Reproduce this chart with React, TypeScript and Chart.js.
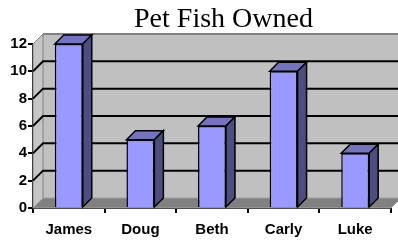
import React, { useEffect, useRef } from 'react';
import { Chart, registerables } from 'chart.js';

Chart.register(...registerables);

const TITLE = 'Pet Fish Owned';
const categories = ['James', 'Doug', 'Beth', 'Carly', 'Luke'];
const fishOwned = [12, 5, 6, 10, 4];
const yMin = 0;
const yMax = 12;
const yStep = 2;

const WALL_DEPTH = 10;
const BAR_DEPTH = 9;

function poly(ctx: CanvasRenderingContext2D, pts: number[][], fill: string, stroke?: string, lw = 1) {
  ctx.beginPath();
  ctx.moveTo(pts[0][0], pts[0][1]);
  for (let i = 1; i < pts.length; i++) ctx.lineTo(pts[i][0], pts[i][1]);
  ctx.closePath();
  ctx.fillStyle = fill;
  ctx.fill();
  if (stroke) {
    ctx.strokeStyle = stroke;
    ctx.lineWidth = lw;
    ctx.lineJoin = 'miter';
    ctx.stroke();
  }
}

const threeD = {
  id: 'threeD',
  beforeDatasetsDraw(chart: any) {
    const { ctx, chartArea, scales } = chart;
    const { left, right, bottom } = chartArea;
    const y = scales.y;
    const d = WALL_DEPTH;
    const yTop = y.getPixelForValue(yMax);
    ctx.save();
    // back wall
    poly(ctx, [[left + d, yTop - d], [right + d, yTop - d], [right + d, bottom - d], [left + d, bottom - d]], '#c0c0c0');
    // left wall
    poly(ctx, [[left, bottom], [left, yTop], [left + d, yTop - d], [left + d, bottom - d]], '#c6c6c6', '#808080', 1);
    // floor
    poly(ctx, [[left, bottom], [right, bottom], [right + d, bottom - d], [left + d, bottom - d]], '#808080', '#a0a0a0', 1);
    // top edge of back wall
    ctx.strokeStyle = '#808080';
    ctx.lineWidth = 2;
    ctx.beginPath();
    ctx.moveTo(left + d, yTop - d);
    ctx.lineTo(right + d + 20, yTop - d);
    ctx.stroke();
    // gridlines
    ctx.strokeStyle = '#000';
    ctx.lineWidth = 2;
    for (let v = yMin + yStep; v < yMax; v += yStep) {
      const py = y.getPixelForValue(v);
      ctx.beginPath();
      ctx.moveTo(left, py);
      ctx.lineTo(left + d, py - d);
      ctx.lineTo(right + d + 20, py - d);
      ctx.stroke();
    }
    ctx.restore();
  },
  afterDatasetsDraw(chart: any) {
    const { ctx } = chart;
    const meta = chart.getDatasetMeta(0);
    const d = BAR_DEPTH;
    ctx.save();
    meta.data.forEach((bar: any) => {
      const { x, y, base, width } = bar.getProps(['x', 'y', 'base', 'width'], true);
      const l = x - width / 2;
      const r = x + width / 2;
      poly(ctx, [[l, y], [r, y], [r + d, y - d], [l + d, y - d]], '#7373bf', '#000', 1.5);
      poly(ctx, [[r, y], [r + d, y - d], [r + d, base - d], [r, base]], '#4d4d80', '#000', 1.5);
    });
    ctx.restore();
  },
  afterDraw(chart: any) {
    const { ctx } = chart;
    ctx.save();
    ctx.font = '28px "Liberation Serif", "Times New Roman", serif';
    ctx.fillStyle = '#000';
    ctx.textAlign = 'center';
    ctx.textBaseline = 'alphabetic';
    ctx.fillText(TITLE, 223.5, 27);
    ctx.restore();
  },
};

export default function App() {
  const ref = useRef<HTMLCanvasElement | null>(null);
  useEffect(() => {
    if (!ref.current) return;
    const chart = new Chart(ref.current, {
      type: 'bar',
      data: {
        labels: categories,
        datasets: [
          {
            label: TITLE,
            data: fishOwned,
            backgroundColor: '#9999ff',
            borderColor: '#000',
            borderWidth: 1.5,
            barPercentage: 0.39,
            categoryPercentage: 1,
            clip: false as any,
          },
        ],
      },
      options: {
        responsive: false,
        animation: false,
        layout: { padding: { top: 44, right: 7, left: 0, bottom: 0 } },
        plugins: { legend: { display: false }, tooltip: { enabled: false }, title: { display: false } },
        scales: {
          x: {
            offset: true,
            afterFit: (s: any) => { s.height = 35; },
            grid: { offset: true, drawOnChartArea: false, drawTicks: true, tickLength: 5, color: '#000', lineWidth: 2 },
            border: { display: true, color: '#000', width: 2 },
            ticks: { color: '#000', padding: 8, font: { family: 'Liberation Sans, Arial, sans-serif', size: 15, weight: 'bold' } },
          },
          y: {
            min: yMin,
            max: yMax,
            afterFit: (s: any) => { s.width = 33; },
            grid: { drawOnChartArea: false, drawTicks: true, tickLength: 5, color: '#000', lineWidth: 2 },
            border: { display: true, color: '#000', width: 2 },
            ticks: { stepSize: yStep, color: '#000', padding: 1, font: { family: 'Liberation Sans, Arial, sans-serif', size: 15, weight: 'bold' } },
          },
        },
      },
      plugins: [threeD],
    });
    return () => chart.destroy();
  }, []);
  return (
    <div style={{ position: 'fixed', left: 0, top: 0, width: 398, height: 243, background: '#fff' }}>
      <canvas ref={ref} width={398} height={243} style={{ display: 'block', width: 398, height: 243 }} />
    </div>
  );
}
